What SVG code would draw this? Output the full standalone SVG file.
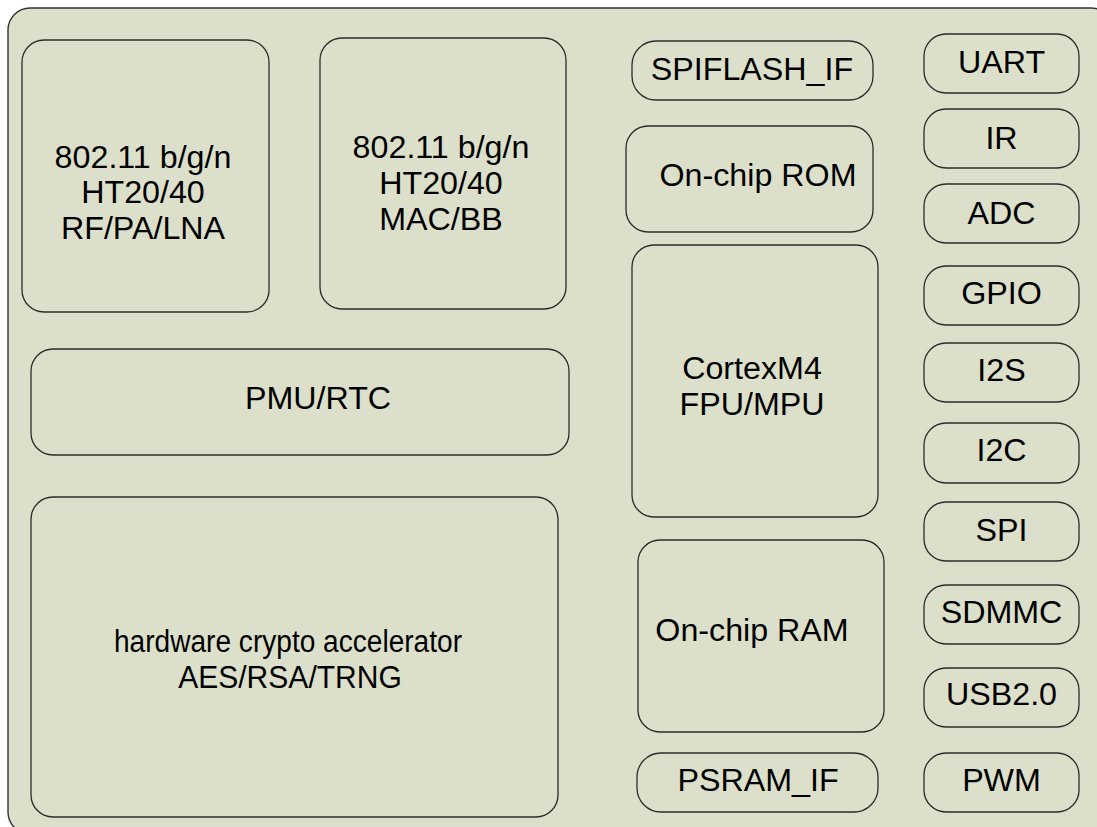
<svg xmlns="http://www.w3.org/2000/svg" width="1097" height="827" viewBox="0 0 1097 827">
<style>
.bg{fill:#ffffff}
.outer{fill:#DCE0CA;stroke:#333333;stroke-width:1.4}
.box{fill:#DCE0CA;stroke:#2b2b2b;stroke-width:1.3}
.t{font-family:"Liberation Sans",Arial,sans-serif;font-size:31px;fill:#000000;text-anchor:middle}
</style>
<rect class="bg" x="0" y="0" width="1097" height="827"/>
<rect class="outer" x="8" y="8" width="1105" height="826" rx="22" ry="22"/>
<g id="nodes">
<g id="rf"><rect class="box" x="22" y="40" width="247" height="272" rx="22"/>
<text class="t" transform="translate(143,168) scale(1.04,1)"><tspan x="0" y="0">802.11 b/g/n</tspan><tspan x="0" y="35.5">HT20/40</tspan><tspan x="0" y="71">RF/PA/LNA</tspan></text></g>
<g id="mac"><rect class="box" x="320" y="38" width="246" height="271" rx="22"/>
<text class="t" transform="translate(441,158) scale(1.04,1)"><tspan x="0" y="0">802.11 b/g/n</tspan><tspan x="0" y="36">HT20/40</tspan><tspan x="0" y="72">MAC/BB</tspan></text></g>
<g id="pmu"><rect class="box" x="31" y="349" width="538" height="106" rx="22"/>
<text class="t" transform="translate(318,409) scale(1.04,1)">PMU/RTC</text></g>
<g id="crypto"><rect class="box" x="31" y="497" width="527" height="320" rx="22"/>
<text class="t" x="288" y="652" textLength="348" lengthAdjust="spacingAndGlyphs">hardware crypto accelerator</text>
<text class="t" transform="translate(290,688) scale(0.97,1)">AES/RSA/TRNG</text></g>
<g id="spiflash"><rect class="box" x="632" y="41" width="241" height="59" rx="24"/>
<text class="t" transform="translate(752,80) scale(1.04,1)">SPIFLASH_IF</text></g>
<g id="rom"><rect class="box" x="626" y="126" width="247" height="106" rx="22"/>
<text class="t" transform="translate(758,186) scale(1.04,1)">On-chip ROM</text></g>
<g id="cortex"><rect class="box" x="632" y="245" width="246" height="272" rx="22"/>
<text class="t" transform="translate(752,379) scale(1.04,1)"><tspan x="0" y="0">CortexM4</tspan><tspan x="0" y="36">FPU/MPU</tspan></text></g>
<g id="ram"><rect class="box" x="638" y="540" width="246" height="192" rx="22"/>
<text class="t" transform="translate(752,641) scale(1.04,1)">On-chip RAM</text></g>
<g id="psram"><rect class="box" x="637" y="753" width="241" height="59" rx="24"/>
<text class="t" transform="translate(758,791) scale(1.04,1)">PSRAM_IF</text></g>
<g id="uart"><rect class="box" x="924" y="34" width="155" height="59" rx="22"/>
<text class="t" transform="translate(1001.5,73) scale(1.04,1)">UART</text></g>
<g id="ir"><rect class="box" x="924" y="109" width="155" height="59" rx="22"/>
<text class="t" transform="translate(1001.5,149) scale(1.04,1)">IR</text></g>
<g id="adc"><rect class="box" x="924" y="184" width="155" height="59" rx="22"/>
<text class="t" transform="translate(1001.5,224) scale(1.04,1)">ADC</text></g>
<g id="gpio"><rect class="box" x="924" y="266" width="155" height="59" rx="22"/>
<text class="t" transform="translate(1001.5,304) scale(1.04,1)">GPIO</text></g>
<g id="i2s"><rect class="box" x="924" y="343" width="155" height="59" rx="22"/>
<text class="t" transform="translate(1001.5,381) scale(1.04,1)">I2S</text></g>
<g id="i2c"><rect class="box" x="924" y="423" width="155" height="60" rx="22"/>
<text class="t" transform="translate(1001.5,461) scale(1.04,1)">I2C</text></g>
<g id="spi"><rect class="box" x="924" y="502" width="155" height="59" rx="22"/>
<text class="t" transform="translate(1001.5,541) scale(1.04,1)">SPI</text></g>
<g id="sdmmc"><rect class="box" x="924" y="585" width="155" height="59" rx="22"/>
<text class="t" transform="translate(1001.5,623) scale(1.04,1)">SDMMC</text></g>
<g id="usb"><rect class="box" x="924" y="668" width="155" height="59" rx="22"/>
<text class="t" transform="translate(1001.5,705) scale(1.04,1)">USB2.0</text></g>
<g id="pwm"><rect class="box" x="924" y="753" width="155" height="59" rx="22"/>
<text class="t" transform="translate(1001.5,791) scale(1.04,1)">PWM</text></g>
</g>
<g id="connectors"></g>
</svg>
